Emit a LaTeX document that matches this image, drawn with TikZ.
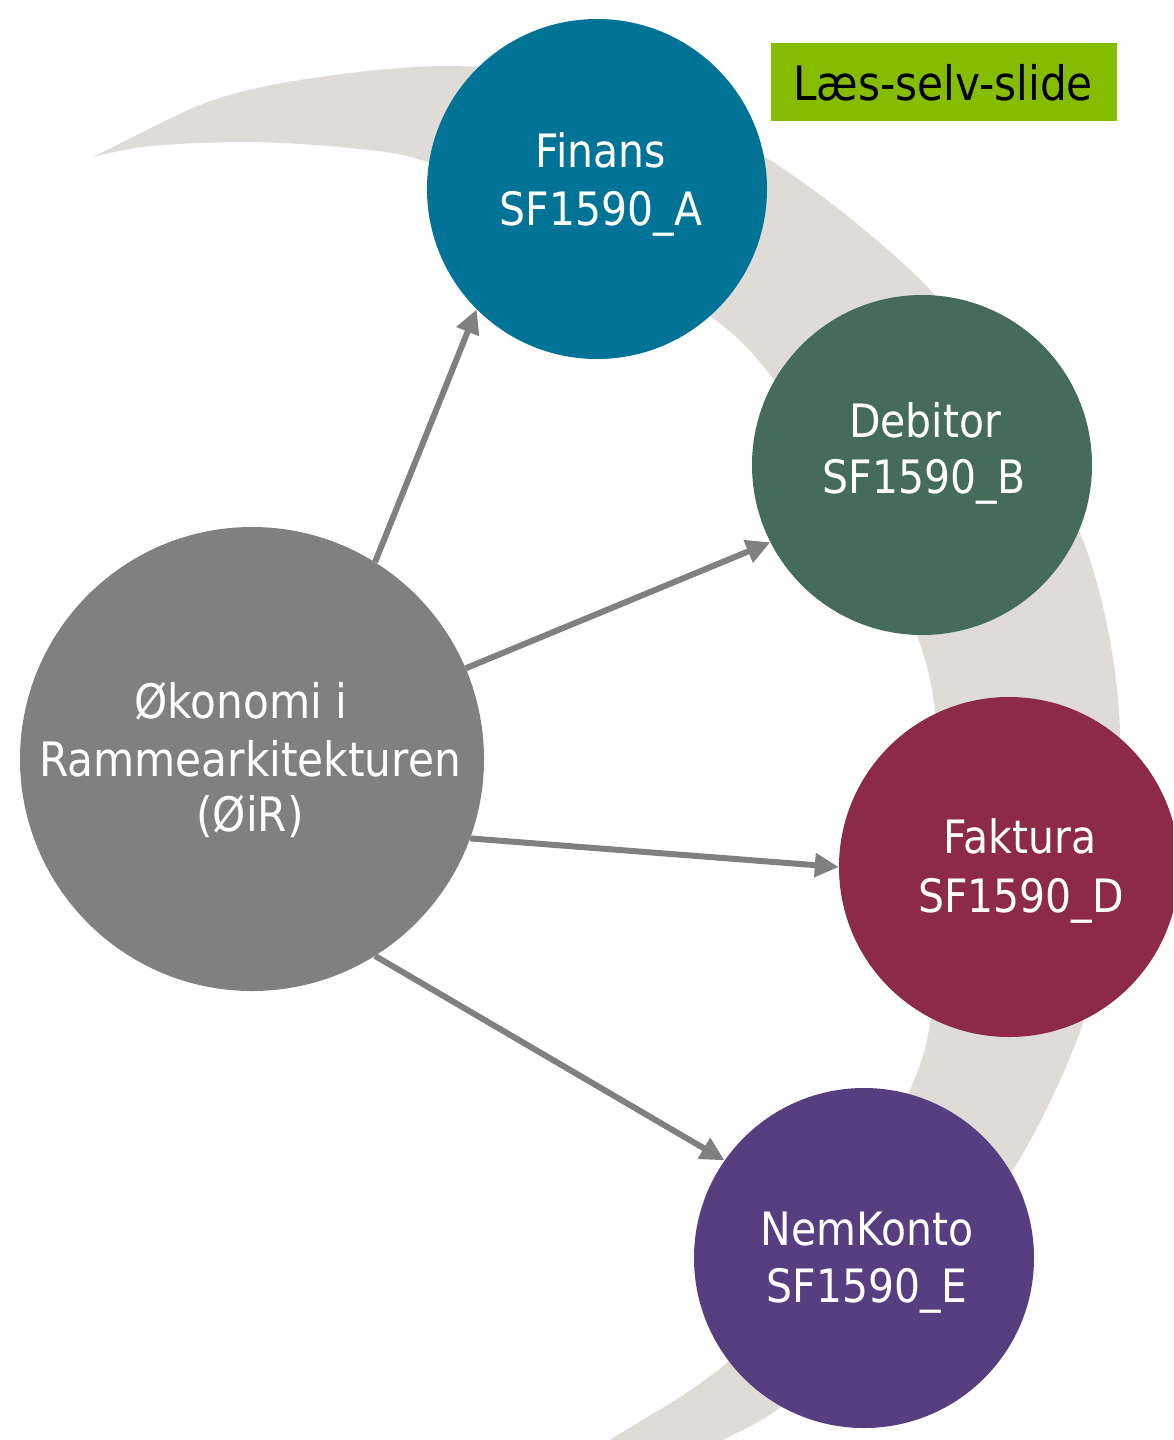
\documentclass[tikz,border=0pt]{standalone}
\usepackage{fontspec}
\newfontfamily\tah[FakeStretch=0.89]{DejaVu Sans}
\usetikzlibrary{arrows.meta}
\definecolor{finc}{HTML}{007396}
\definecolor{debc}{HTML}{456B5B}
\definecolor{fakc}{HTML}{8C2A47}
\definecolor{nemc}{HTML}{573E80}
\definecolor{oirc}{HTML}{808080}
\definecolor{arrc}{HTML}{808080}
\definecolor{cresc}{HTML}{DFDCD8}
\definecolor{boxc}{HTML}{86BC00}
\begin{document}
\begin{tikzpicture}[x=1pt,y=-1pt,
  circ/.style={circle, inner sep=0pt, minimum size=340pt},
  lbl/.style={anchor=base, text=white, inner sep=0pt, font=\tah\fontsize{46}{46}\selectfont},
  biglbl/.style={lbl, font=\tah\fontsize{47.5}{47.5}\selectfont},
  conn/.style={draw=arrc, line width=6pt, -{Triangle[length=24pt,width=23pt]}},
]
\useasboundingbox (0,0) rectangle (1173,1440);
\clip (0,0) rectangle (1173,1440);
\fill[white] (0,0) rectangle (1173,1440);

% crescent band
\fill[cresc] plot[smooth, tension=0.5] coordinates {(93,157) (133,137) (167,120) (200,105) (233,94) (267,86) (300,80) (350,73) (400,68) (450,66) (520,70) (600,85) (680,115) (765,157) (850,218) (933,293) (1010,395) (1080,533) (1108,630) (1120,733) (1112,870) (1083,1023) (1013,1170) (900,1315) (777,1410) (723,1440) (670,1472)}
  -- plot[smooth, tension=0.5] coordinates {(560,1476) (610,1440) (680,1397) (727,1363) (800,1300) (860,1200) (910,1090) (930,1023) (942,870) (938,740) (922,650) (860,500) (772,377) (713,318) (570,225) (427,162) (350,148) (250,142) (150,146) (93,157)} -- cycle;

% circles
\node[circ, fill=finc] (fin) at (597,189) {};
\node[circ, fill=debc] (deb) at (922,465) {};
\node[circ, fill=fakc] (fak) at (1009,867) {};
\node[circ, fill=nemc] (nem) at (864,1258) {};
\node[circle, inner sep=0pt, minimum size=464pt, fill=oirc] (oir) at (252,759) {};

% texts
\node[lbl] (finA) at (601,167) {Finans};
\node[lbl] (finB) at (601,225) {SF1590\_A};
\node[lbl] (debA) at (925,437) {Debitor};
\node[lbl] (debB) at (924,493) {SF1590\_B};
\node[lbl] (fakA) at (1020,853) {Faktura};
\node[lbl] (fakB) at (1021,912) {SF1590\_D};
\node[lbl] (nemA) at (867,1245) {NemKonto};
\node[lbl] (nemB) at (867,1302) {SF1590\_E};
\node[biglbl] (oirA) at (241,718) {Økonomi i};
\node[biglbl] (oirB) at (250,776) {Rammearkitekturen};
\node[biglbl] (oirC) at (250,831) {(ØiR)};

% read-yourself box
\node[fill=boxc, inner sep=0pt, minimum width=346pt, minimum height=78pt] (box) at (944,82) {};
\node[anchor=base, inner sep=0pt, text=black, font=\tah\fontsize{47.5}{47.5}\selectfont] (boxT) at (943,100) {Læs-selv-slide};

% connectors
\draw[conn] (oir.58.7) -- (fin.225.9);
\draw[conn] (oir.23.2) -- (deb.207);
\draw[conn] (oir.-20.4) -- (fak.180);
\draw[conn] (oir.-58.1) -- (nem.145.8);
\end{tikzpicture}
\end{document}
